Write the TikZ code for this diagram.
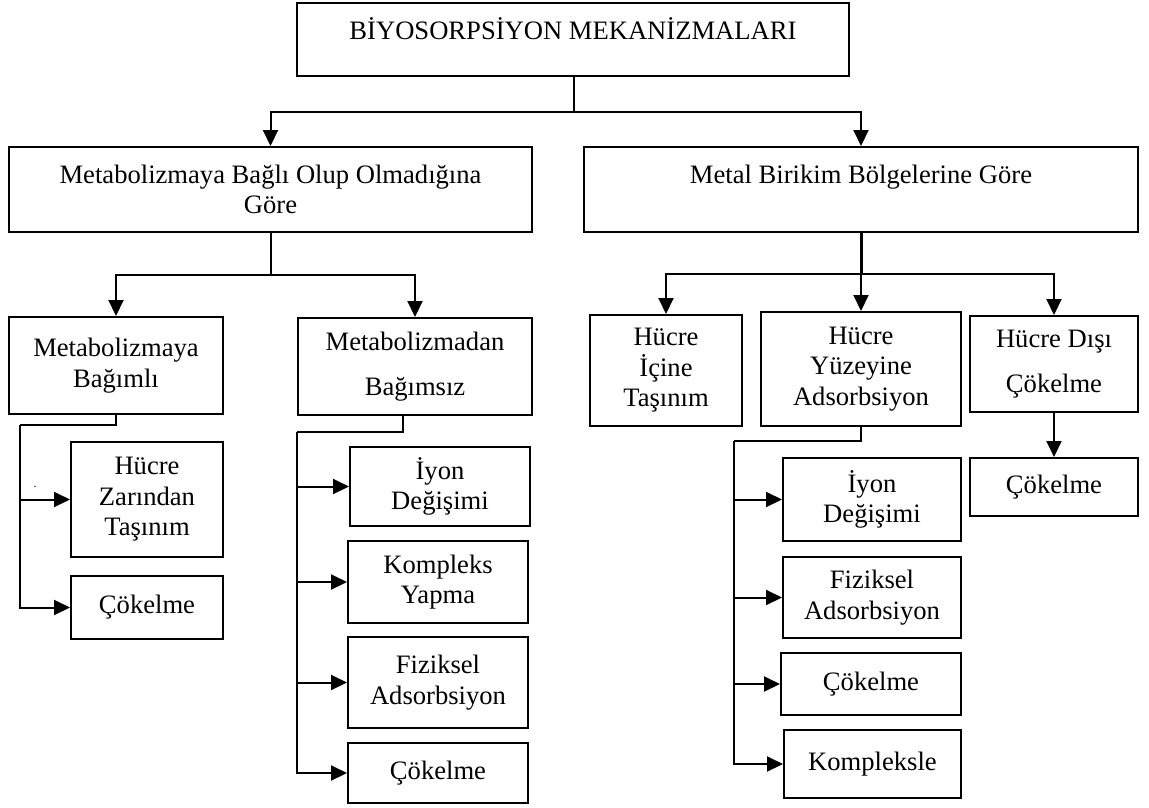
\documentclass[tikz,border=0pt]{standalone}
\usepackage{fontspec}
\setmainfont{Liberation Serif}
\usetikzlibrary{arrows.meta, positioning, calc}
\newcommand{\boxfont}{\fontsize{26.6}{30.5}\selectfont}
\tikzset{
    mech box/.style={
        rectangle,
        draw=black,
        line width=2pt,
        inner sep=2pt,
        align=center,
        font=\boxfont
    },
    link/.style={
        line width=2pt,
        draw=black
    },
    trunk/.style={
        line width=3pt,
        draw=black
    },
    arrow/.style={
        -{Triangle[length=16pt,width=15pt]},
        line width=2pt,
        draw=black
    }
}

\begin{document}
\begin{tikzpicture}[x=1pt,y=-1pt]

\useasboundingbox (0,0) rectangle (1149,807);

% Title
\node[mech box, minimum width=552pt, minimum height=73pt, text height=18pt, text depth=17.4pt]
     (title) at (573,39.5) {BİYOSORPSİYON MEKANİZMALARI};

% Second level
\node[mech box, minimum width=523pt, minimum height=85pt] (met) at (270.5,189.5) {
    Metabolizmaya Bağlı Olup Olmadığına\\Göre
};
\node[mech box, minimum width=554pt, minimum height=85pt, text height=18pt, text depth=30.4pt]
     (bir) at (861,189.5) {Metal Birikim Bölgelerine Göre};

% Left branch
\node[mech box, minimum width=214pt, minimum height=97pt] (bagimli) at (116,365.5) {Metabolizmaya\\Bağımlı};
\node[mech box, minimum width=234pt, minimum height=97pt] (bagimsiz) at (415,366.5) {Metabolizmadan\\[15pt]Bağımsız};

\node[mech box, minimum width=152pt, minimum height=115pt] (zar) at (147,499.5) {Hücre\\Zarından\\Taşınım};
\node[mech box, minimum width=152pt, minimum height=63pt] (cokA) at (147,607.5) {Çökelme};
\node[font=\fontsize{12}{14}\selectfont, anchor=base, inner sep=0pt] (dot) at (35,487) {.};

\node[mech box, minimum width=180pt, minimum height=79pt] (iyonB) at (440,486.5) {İyon\\Değişimi};
\node[mech box, minimum width=180pt, minimum height=82pt] (kompB) at (438,582) {Kompleks\\Yapma};
\node[mech box, minimum width=180pt, minimum height=91pt] (fizB) at (438,682.5) {Fiziksel\\Adsorbsiyon};
\node[mech box, minimum width=180pt, minimum height=60pt] (cokB) at (438,773) {Çökelme};

% Right branch
\node[mech box, minimum width=152pt, minimum height=111pt] (icine) at (666,370.5) {Hücre\\İçine\\Taşınım};
\node[mech box, minimum width=200pt, minimum height=114pt] (yuzey) at (861,369) {Hücre\\Yüzeyine\\Adsorbsiyon};
\node[mech box, minimum width=168pt, minimum height=96pt] (disi) at (1054,364) {Hücre Dışı\\[14pt]Çökelme};
\node[mech box, minimum width=168pt, minimum height=58pt] (cokD) at (1054,487) {Çökelme};

\node[mech box, minimum width=178pt, minimum height=83pt] (iyonC) at (872,499.5) {İyon\\Değişimi};
\node[mech box, minimum width=178pt, minimum height=81pt] (fizC) at (872,597.5) {Fiziksel\\Adsorbsiyon};
\node[mech box, minimum width=180pt, minimum height=62pt] (cokC) at (871,684) {Çökelme};
\node[mech box, minimum width=177pt, minimum height=68pt] (kompC) at (872.5,764) {Kompleksle};

% === CONNECTORS ===

% Title to second level
\coordinate (j0) at (574,112);
\draw[link] (j0 |- title.south) -- (j0);
\draw[arrow] (j0) -| (met.north);
\draw[arrow] (j0) -| (bir.north);

% Metabolism split
\coordinate (j1) at (271,275);
\draw[link] (j1 |- met.south) -- (j1);
\draw[arrow] (j1) -| (bagimli.north);
\draw[arrow] (j1) -| (bagimsiz.north);

% Accumulation site split
\coordinate (j2) at (861,274);
\draw[trunk] (bir.south) -- (j2);
\draw[arrow] (j2) -| (icine.north);
\draw[arrow] (j2) -- (yuzey.north);
\draw[arrow] (j2) -| (disi.north);

% Bağımlı list
\coordinate (s1) at (20,425);
\draw[link] (bagimli.south) |- (s1);
\draw[arrow] (s1) |- (cokA.west);
\draw[arrow] (s1 |- zar.west) -- (zar.west);

% Bağımsız list
\coordinate (s2) at (297,432);
\draw[link] ([xshift=-12pt]bagimsiz.south) |- (s2);
\draw[arrow] (s2) |- (cokB.west);
\foreach \n in {iyonB,kompB,fizB}
    \draw[arrow] (s2 |- \n.west) -- (\n.west);

% Yüzeyine list
\coordinate (s3) at (734,441);
\draw[link] (yuzey.south) |- (s3);
\draw[arrow] (s3) |- (kompC.west);
\foreach \n in {iyonC,fizC,cokC}
    \draw[arrow] (s3 |- \n.west) -- (\n.west);

% Dışı
\draw[arrow] (disi) -- (cokD);

\end{tikzpicture}
\end{document}
